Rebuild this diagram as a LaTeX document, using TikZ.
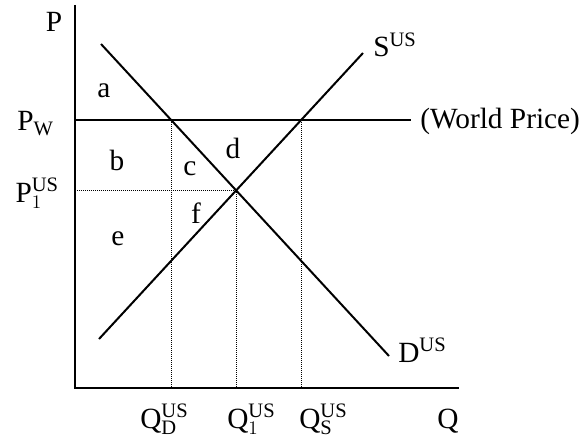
\documentclass[tikz,border=0pt]{standalone}
\usepackage{fontspec}
\setmainfont{Liberation Serif}
\usetikzlibrary{calc}

\begin{document}
\begin{tikzpicture}[x=0.75pt,y=-0.75pt,
  curve/.style={line width=1.5pt},
  guide/.style={line width=0.75pt,dash pattern=on 0.75pt off 0.75pt},
  lbl/.style={inner sep=0pt,font=\fontsize{22}{26}\selectfont}]
  \useasboundingbox (0,0) rectangle (584,442);
  % axes
  \coordinate (origin) at (75,388);
  \coordinate (ptop) at (75,5);
  \coordinate (qend) at (459,388);
  \draw[curve] (ptop) -- (origin) -- (qend);
  % world price, demand and supply
  \coordinate (wleft) at (75,120);
  \coordinate (wright) at (411,120);
  \coordinate (dtop) at (101,44);
  \coordinate (dbot) at (389,356);
  \coordinate (sbot) at (99,339);
  \coordinate (stop) at (363,53);
  \draw[curve] (wleft) -- (wright);
  \draw[curve] (dtop) -- (dbot);
  \draw[curve] (sbot) -- (stop);
  % crossing points
  \coordinate (qdpt) at (171,120);
  \coordinate (qspt) at (301,120);
  \coordinate (eqpt) at (236,190);
  \draw[guide] (qdpt) -- (qdpt |- origin);
  \draw[guide] (qspt) -- (qspt |- origin);
  \draw[guide] (eqpt) -- (eqpt |- origin);
  \draw[guide] (eqpt) -- (eqpt -| origin);
  % axis labels
  \node[lbl,anchor=base] (plab) at (54,32) {P};
  \node[lbl,anchor=base west] (qlab) at (437,428) {Q};
  \node[lbl,anchor=base east] (pw) at (54,131) {$\mathrm{P}_{\mathrm{W}}$};
  \node[lbl,anchor=base east] (p1) at (59,202) {$\mathrm{P}^{\mathrm{US}}_{1}$};
  \node[lbl,anchor=base west] (qd) at (140,428) {$\mathrm{Q}^{\mathrm{US}}_{\mathrm{D}}$};
  \node[lbl,anchor=base west] (q1) at (227,428) {$\mathrm{Q}^{\mathrm{US}}_{1}$};
  \node[lbl,anchor=base west] (qs) at (299,428) {$\mathrm{Q}^{\mathrm{US}}_{\mathrm{S}}$};
  % curve labels
  \node[lbl,anchor=base west] (slab) at (373,57) {$\mathrm{S}^{\mathrm{US}}$};
  \node[lbl,anchor=base west] (dlab) at (398,362) {$\mathrm{D}^{\mathrm{US}}$};
  \node[lbl,anchor=base west] (wplab) at (420,128) {(World Price)};
  % areas
  \node[lbl,anchor=base] (areaa) at (104,98) {a};
  \node[lbl,anchor=base] (areab) at (117,170) {b};
  \node[lbl,anchor=base] (areac) at (190,175) {c};
  \node[lbl,anchor=base] (aread) at (233,158) {d};
  \node[lbl,anchor=base] (areae) at (118,245) {e};
  \node[lbl,anchor=base] (areaf) at (196,223) {f};
\end{tikzpicture}
\end{document}
